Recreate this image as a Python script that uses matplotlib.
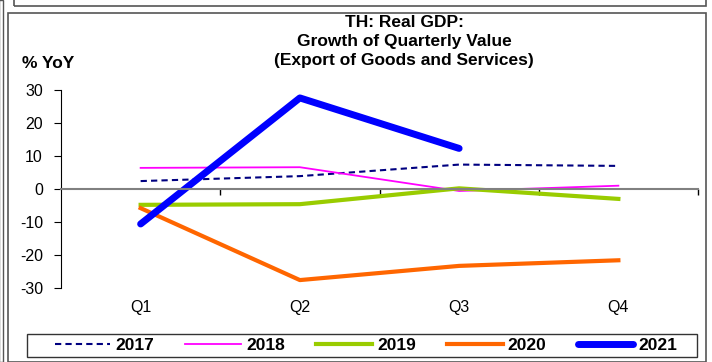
import matplotlib.pyplot as plt
from matplotlib.patches import Rectangle
from matplotlib.transforms import blended_transform_factory

plt.rcParams['font.family'] = ['Liberation Sans', 'DejaVu Sans']
plt.rcParams['axes.unicode_minus'] = False

quarters = ['Q1', 'Q2', 'Q3', 'Q4']
y2017 = [2.4, 3.9, 7.4, 7.0]
y2018 = [6.4, 6.6, -0.6, 1.0]
y2019 = [-4.8, -4.6, 0.2, -3.0]
y2020 = [-5.8, -27.6, -23.3, -21.6]
y2021 = [-10.6, 27.6, 12.3]

fig = plt.figure(figsize=(7.12, 3.62), dpi=100)

# outer frames like the screenshot
fig.patches.append(Rectangle((8 / 712, 0), 698 / 712, 349 / 362, transform=fig.transFigure,
                             fill=False, edgecolor='#555555', linewidth=1.2))
fig.patches.append(Rectangle((14 / 712, 356 / 362), 692 / 712, 10 / 362, transform=fig.transFigure,
                             fill=False, edgecolor='#555555', linewidth=1.2))
fig.patches.append(Rectangle((-1 / 712, 0), 4 / 712, 1, transform=fig.transFigure,
                             fill=False, edgecolor='#555555', linewidth=1.0))
# legend box
fig.patches.append(Rectangle((27 / 712, 5 / 362), 670 / 712, 23 / 362, transform=fig.transFigure,
                             fill=False, edgecolor='#333333', linewidth=1.0))

ax = fig.add_axes([61 / 712, 1 - 288 / 362, 637 / 712, 198 / 362])
x = list(range(len(quarters)))

ax.plot(x, y2017, color='#000080', lw=1.5, ls=(0, (3, 2)), label='2017')
ax.plot(x, y2018, color='#FF00FF', lw=1.3, label='2018')
ax.plot(x, y2019, color='#99CC00', lw=3, label='2019')
ax.plot(x, y2020, color='#FF6600', lw=3, label='2020')
ax.plot(x[:len(y2021)], y2021, color='#0000FF', lw=5, solid_capstyle='round', label='2021')

ax.set_xlim(-0.5, 3.5)
ax.set_ylim(-30, 30)
ax.set_yticks([-30, -20, -10, 0, 10, 20, 30])
ax.tick_params(axis='y', direction='out', length=5, labelsize=11.5, pad=8)

# zero line carries the category boundary ticks
ax.spines['top'].set_visible(False)
ax.spines['right'].set_visible(False)
ax.spines['bottom'].set_position(('data', 0))
ax.spines['bottom'].set_color('#808080')
ax.spines['bottom'].set_linewidth(1.5)
ax.set_xticks([0.5, 1.5, 2.5, 3.5])
ax.set_xticklabels([])
ax.tick_params(axis='x', direction='out', length=4, width=1)

trans = blended_transform_factory(ax.transData, ax.transAxes)
for i, q in enumerate(quarters):
    ax.text(i, -0.096, q, transform=trans, ha='center', va='center', fontsize=11.5)

fig.text(404 / 712, 1 - 15 / 362, 'TH: Real GDP:\nGrowth of Quarterly Value\n(Export of Goods and Services)',
         ha='center', va='top', fontsize=12.5, fontweight='bold', linespacing=1.32)
fig.text(22 / 712, 1 - 64 / 362, '% YoY', ha='left', va='center', fontsize=12.5, fontweight='bold')

leg = fig.legend(loc='center', ncol=5,
                 bbox_to_anchor=(31 / 712, 5 / 362, 670 / 712, 23 / 362),
                 prop={'weight': 'bold', 'size': 12.5}, handlelength=3.2,
                 frameon=False, borderpad=0.15,
                 columnspacing=1.8, handletextpad=0.3)

fig.savefig('out.png', dpi=100)
